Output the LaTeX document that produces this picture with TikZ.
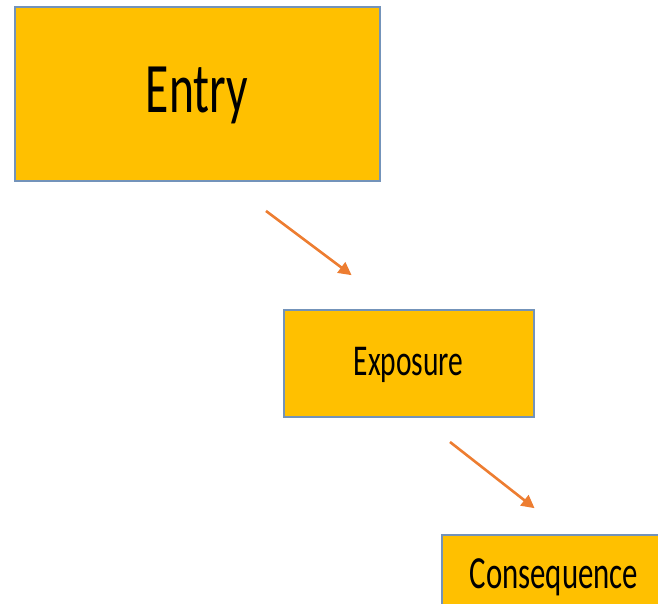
\documentclass[tikz,border=0pt]{standalone}
\usepackage{fontspec}
\setmainfont{Carlito}
\usetikzlibrary{arrows.meta}
\definecolor{boxfill}{HTML}{FFC000}
\definecolor{boxline}{HTML}{7393BA}
\definecolor{arrowc}{HTML}{ED7D31}
\tikzset{
  stagebox/.style={draw=boxline, line width=2pt, fill=boxfill, inner sep=0pt},
  stagetext/.style={anchor=base, inner sep=0pt, text=black},
  flowarrow/.style={draw=arrowc, line width=2.6pt, -{Triangle[length=13pt,width=13pt]}, shorten >=-2pt},
}
\newcommand{\narrowtext}[2]{\fontsize{#1}{#1}\selectfont\scalebox{0.67}[1]{#2}}
\begin{document}
\begin{tikzpicture}[x=1pt,y=1pt]
  \useasboundingbox (0,0) rectangle (658,604);
  \clip (0,0) rectangle (658,604);
  % stage boxes
  \node[stagebox, minimum width=365pt, minimum height=174pt] (entry) at (197.5,510) {};
  \node[stagebox, minimum width=250pt, minimum height=107pt] (exposure) at (409,240.5) {};
  \node[stagebox, minimum width=240pt, minimum height=90pt] (consequence) at (562,24) {};
  % labels
  \node[stagetext] (entrylabel) at (197,491) {\narrowtext{71}{Entry}};
  \node[stagetext] (exposurelabel) at (408.5,228) {\narrowtext{44}{Exposure}};
  \node[stagetext] (consequencelabel) at (554,15) {\narrowtext{46}{Consequence}};
  % arrow end points
  \coordinate (a1s) at (266,393);
  \coordinate (a1e) at (350,330);
  \coordinate (a2s) at (450,162);
  \coordinate (a2e) at (533,97);
  \draw[flowarrow] (a1s) -- (a1e);
  \draw[flowarrow] (a2s) -- (a2e);
\end{tikzpicture}
\end{document}
